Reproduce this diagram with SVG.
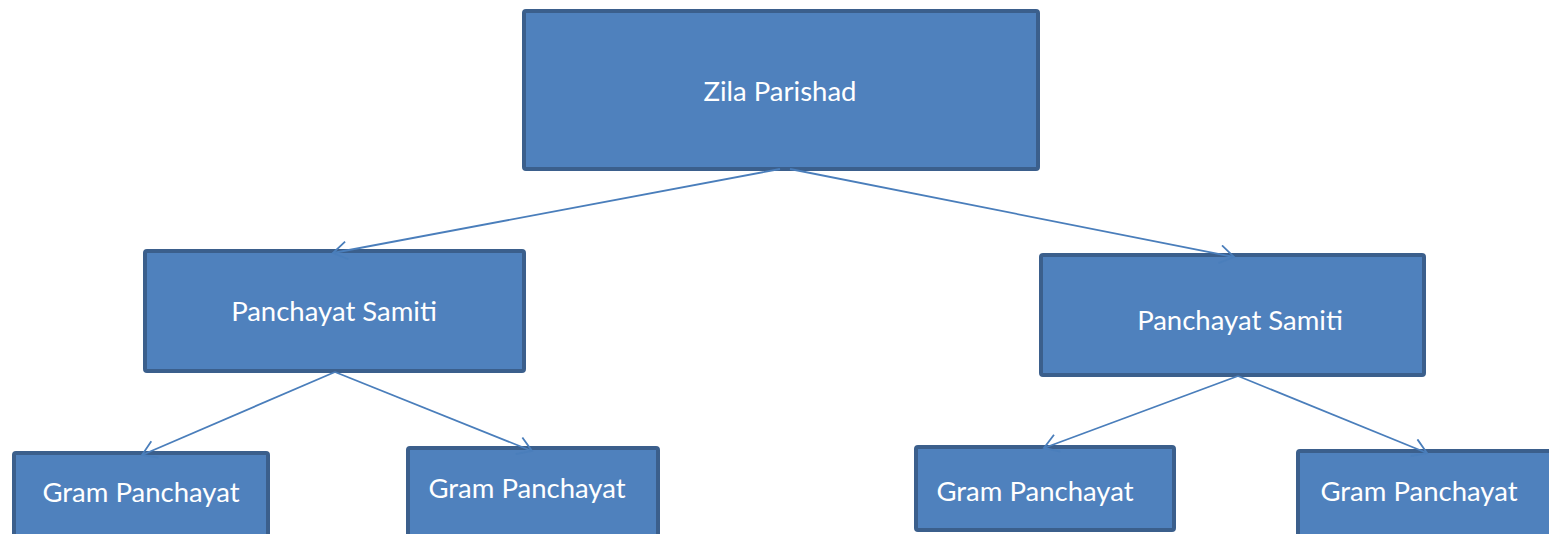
<svg xmlns="http://www.w3.org/2000/svg" width="1549" height="534" viewBox="0 0 1549 534">
<style>
.box{fill:#4f81bd;stroke:#3b5f8c;stroke-width:4}
.lbl{font-family:Lato,"Open Sans","Liberation Sans",sans-serif;font-size:27.5px;fill:#ffffff;text-anchor:middle}
.conn{stroke:#4a7ebb;stroke-width:1.8;fill:none;marker-end:url(#arr)}
</style>
<defs>
<marker id="arr" markerUnits="userSpaceOnUse" markerWidth="20" markerHeight="22" refX="15" refY="10" orient="auto">
<path d="M1,1 L15,10 L1,19" fill="none" stroke="#4a7ebb" stroke-width="1.8"/>
</marker>
</defs>
<rect width="1549" height="534" fill="#ffffff"/>
<g id="zila">
<rect class="box" x="524" y="11" width="514" height="158" rx="2"/>
<text class="lbl" x="780" y="101">Zila Parishad</text>
</g>
<g id="ps-left">
<rect class="box" x="145" y="251" width="379" height="120" rx="2"/>
<text class="lbl" x="334" y="321">Panchayat Samiti</text>
</g>
<g id="ps-right">
<rect class="box" x="1041" y="255" width="383" height="120" rx="2"/>
<text class="lbl" x="1240" y="330">Panchayat Samiti</text>
</g>
<g id="gp1">
<rect class="box" x="14" y="453" width="254" height="84" rx="2"/>
<text class="lbl" x="141" y="502">Gram Panchayat</text>
</g>
<g id="gp2">
<rect class="box" x="408" y="448" width="250" height="89" rx="2"/>
<text class="lbl" x="527" y="498">Gram Panchayat</text>
</g>
<g id="gp3">
<rect class="box" x="916" y="447" width="258" height="83" rx="2"/>
<text class="lbl" x="1035" y="501">Gram Panchayat</text>
</g>
<g id="gp4">
<rect class="box" x="1298" y="451" width="256" height="86" rx="2"/>
<text class="lbl" x="1419" y="501">Gram Panchayat</text>
</g>
<g id="connectors">
<line class="conn" x1="780" y1="169" x2="333" y2="253"/>
<line class="conn" x1="790" y1="169" x2="1234" y2="257"/>
<line class="conn" x1="335" y1="372" x2="142" y2="455"/>
<line class="conn" x1="335" y1="372" x2="532" y2="451"/>
<line class="conn" x1="1238" y1="376" x2="1044" y2="448"/>
<line class="conn" x1="1238" y1="376" x2="1427" y2="453"/>
</g>
</svg>
